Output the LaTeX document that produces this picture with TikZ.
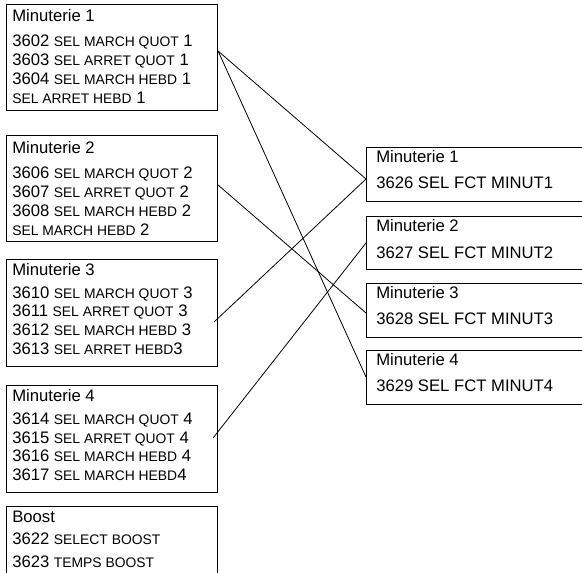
\documentclass[tikz,border=0pt]{standalone}
\usepackage{fontspec}
\setmainfont{Liberation Sans}
\usetikzlibrary{calc}
\newcommand{\petit}[1]{{\fontsize{10.4}{11}\selectfont #1}}

\begin{document}
\begin{tikzpicture}[
  x=0.75pt, y=-0.75pt,
  box/.style={draw, line width=0.8pt, anchor=north west, inner sep=0pt},
  leftbox/.style={box, minimum width=158.25pt, minimum height=80.25pt},
  rightbox/.style={box, minimum width=175.5pt, minimum height=40.5pt},
  txt/.style={anchor=north west, inner sep=0pt, align=left, font=\fontsize{12.5}{14.25}\selectfont},
  tighttxt/.style={txt, font=\fontsize{12.5}{13.9}\selectfont},
  link/.style={line width=0.6pt}
]
\clip (0,0) rectangle (582,573);
\fill[white] (0,0) rectangle (582,573);

% timers on the left
\node[leftbox, minimum height=79.5pt] (m1) at (6,4) {};
\node[leftbox, minimum height=79.5pt] (m2) at (6,135) {};
\node[leftbox] (m3) at (6,259) {};
\node[leftbox] (m4) at (6,385) {};
\node[leftbox, minimum height=60pt] (boost) at (6,506) {};

\node[txt] (m1t) at ($(m1.north west)+(6,5)$) {Minuterie 1\\[4.9pt]
  3602 \petit{SEL MARCH QUOT} 1\\ 3603 \petit{SEL ARRET QUOT} 1\\
  3604 \petit{SEL MARCH HEBD} 1\\ \petit{SEL ARRET HEBD} 1};
\node[txt] (m2t) at ($(m2.north west)+(6,6.5)$) {Minuterie 2\\[4.5pt]
  3606 \petit{SEL MARCH QUOT} 2\\ 3607 \petit{SEL ARRET QUOT} 2\\
  3608 \petit{SEL MARCH HEBD} 2\\ \petit{SEL MARCH HEBD} 2};
\node[tighttxt] (m3t) at ($(m3.north west)+(6,4)$) {Minuterie 3\\[3.4pt]
  3610 \petit{SEL MARCH QUOT} 3\\ 3611 \petit{SEL ARRET QUOT} 3\\
  3612 \petit{SEL MARCH HEBD} 3\\ 3613 \petit{SEL ARRET HEBD}3};
\node[tighttxt] (m4t) at ($(m4.north west)+(6,4)$) {Minuterie 4\\[3.6pt]
  3614 \petit{SEL MARCH QUOT} 4\\ 3615 \petit{SEL ARRET QUOT} 4\\
  3616 \petit{SEL MARCH HEBD} 4\\ 3617 \petit{SEL MARCH HEBD}4};
\node[txt] (boostt) at ($(boost.north west)+(6,4.5)$) {Boost\\[2.6pt]
  3622 \petit{SELECT BOOST}\\[2.6pt] 3623 \petit{TEMPS BOOST}};

% function selections on the right
\node[rightbox] (r1) at (366,147) {};
\node[rightbox, minimum height=39.75pt] (r2) at (366,216) {};
\node[rightbox] (r3) at (366,283) {};
\node[rightbox] (r4) at (366,350) {};

\node[txt] (r1t) at ($(r1.north west)+(10,3)$) {Minuterie 1\\[5.6pt] 3626 SEL FCT MINUT1};
\node[txt] (r2t) at ($(r2.north west)+(10,3.5)$) {Minuterie 2\\[5.6pt] 3627 SEL FCT MINUT2};
\node[txt] (r3t) at ($(r3.north west)+(10,3)$) {Minuterie 3\\[5.6pt] 3628 SEL FCT MINUT3};
\node[txt] (r4t) at ($(r4.north west)+(10,3)$) {Minuterie 4\\[5.6pt] 3629 SEL FCT MINUT4};

% connection points
\coordinate (m1o) at ($(m1.north east)+(0,47)$);
\coordinate (m2o) at ($(m2.north east)+(0,50)$);
\coordinate (m3o) at ($(m3.north east)+(-4,63)$);
\coordinate (m4o) at ($(m4.north east)+(-5,53)$);
\coordinate (r1i) at ($(r1.north west)+(0,32)$);
\coordinate (r2i) at ($(r2.north west)+(0,27)$);
\coordinate (r3i) at ($(r3.north west)+(0,30)$);
\coordinate (r4i) at ($(r4.north west)+(0,27)$);

\draw[link] (m1o) -- (r1i);
\draw[link] (m1o) -- (r4i);
\draw[link] (m2o) -- (r3i);
\draw[link] (m3o) -- (r1i);
\draw[link] (m4o) -- (r2i);
\end{tikzpicture}
\end{document}
